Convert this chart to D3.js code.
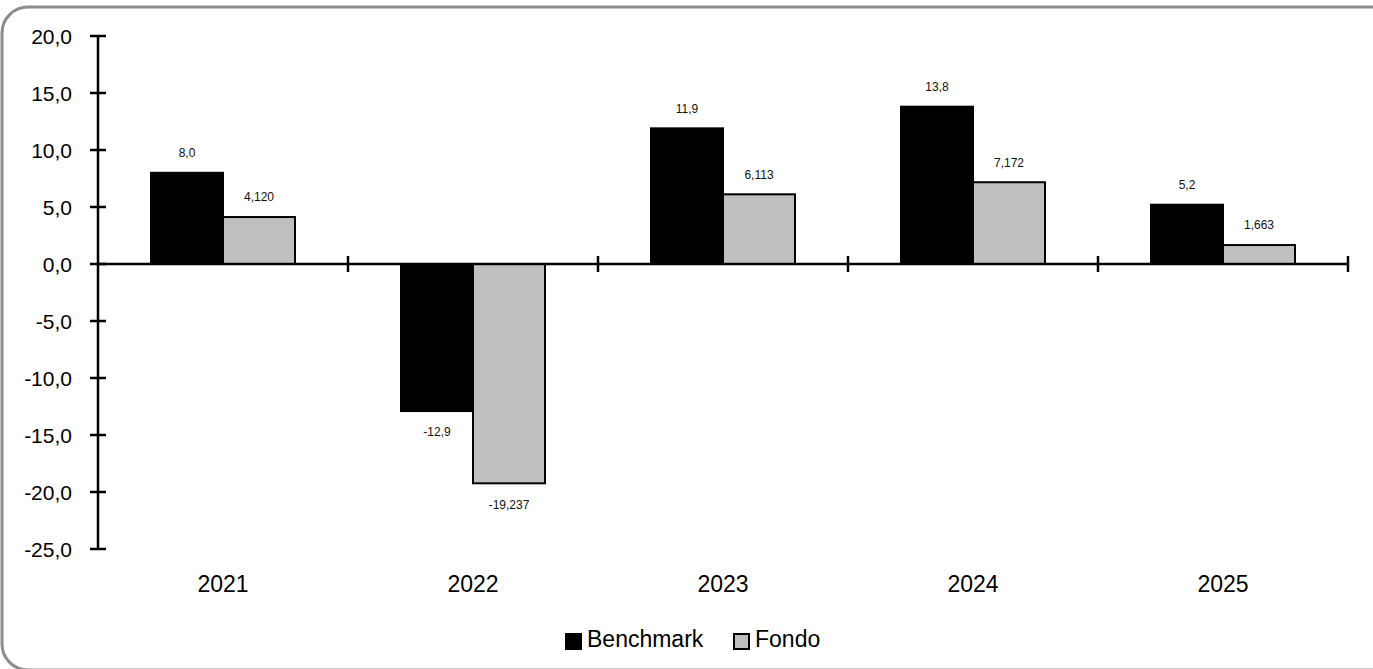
<!DOCTYPE html>
<html>
<head>
<meta charset="utf-8">
<script src="https://cdn.jsdelivr.net/npm/d3@7"></script>
<style>
body{margin:0;background:#fff;}
text{font-family:"Liberation Sans",Arial,sans-serif;fill:#000;}
</style>
</head>
<body>
<svg id="chart" width="1373" height="669"></svg>
<script>
// data
var years = ["2021","2022","2023","2024","2025"];
var benchmark = [8.0, -12.9, 11.9, 13.8, 5.2];
var fondo = [4.120, -19.237, 6.113, 7.172, 1.663];
var benchLabels = ["8,0","-12,9","11,9","13,8","5,2"];
var fondoLabels = ["4,120","-19,237","6,113","7,172","1,663"];
var yTicks = [20,15,10,5,0,-5,-10,-15,-20,-25];
var seriesNames = ["Benchmark","Fondo"];
var seriesColors = ["#000000","#c0c0c0"];

var svg = d3.select("#chart");

// frame
svg.append("rect")
  .attr("x",2).attr("y",7)
  .attr("width",1395).attr("height",663)
  .attr("rx",26).attr("ry",26)
  .attr("fill","none")
  .attr("stroke","#8c8c8c")
  .attr("stroke-width",3);

var left = 98, right = 1348;
var y = d3.scaleLinear().domain([-25,20]).range([549,36]);
var x = d3.scaleBand().domain(years).range([left,right]);
var barW = 72;

// y axis
svg.append("line")
  .attr("x1",left).attr("x2",left)
  .attr("y1",y(20)).attr("y2",y(-25))
  .attr("stroke","#000").attr("stroke-width",2.5);
var fmt = function(d){ return d3.format(".1f")(d).replace(".",",").replace("−","-"); };
svg.selectAll(".ytick").data(yTicks).enter().append("line")
  .attr("x1",left-8).attr("x2",left+8)
  .attr("y1",function(d){return y(d);}).attr("y2",function(d){return y(d);})
  .attr("stroke","#000").attr("stroke-width",2.5);
svg.selectAll(".ylab").data(yTicks).enter().append("text")
  .attr("x",72)
  .attr("y",function(d){return y(d);})
  .attr("dy","0.36em")
  .attr("text-anchor","end")
  .style("font-size","21px")
  .text(fmt);

// bars
var bench = years.map(function(c,i){ return {cat:c, v:benchmark[i], lab:benchLabels[i], s:0}; });
var fond = years.map(function(c,i){ return {cat:c, v:fondo[i], lab:fondoLabels[i], s:1}; });
var all = bench.concat(fond);
function bx(d){ return x(d.cat) + x.bandwidth()/2 - barW + d.s*barW; }

svg.selectAll(".bar").data(all).enter().append("rect")
  .attr("x",bx)
  .attr("y",function(d){ return y(Math.max(0,d.v)); })
  .attr("width",barW)
  .attr("height",function(d){ return Math.abs(y(d.v)-y(0)); })
  .attr("fill",function(d){ return seriesColors[d.s]; })
  .attr("stroke","#000").attr("stroke-width",2);

svg.selectAll(".vlab").data(all).enter().append("text")
  .attr("x",function(d){ return bx(d) + barW/2; })
  .attr("y",function(d){ return d.v >= 0 ? y(d.v) - 20 : y(d.v) + 21; })
  .attr("dy","0.36em")
  .attr("text-anchor","middle")
  .style("font-size","12px")
  .style("fill","#111")
  .text(function(d){ return d.lab; });

// x axis on zero
svg.append("line")
  .attr("x1",left).attr("x2",right)
  .attr("y1",y(0)).attr("y2",y(0))
  .attr("stroke","#000").attr("stroke-width",2.5);
var bounds = years.map(function(c){ return x(c) + x.bandwidth(); });
svg.selectAll(".xtick").data(bounds).enter().append("line")
  .attr("x1",function(d){return d;}).attr("x2",function(d){return d;})
  .attr("y1",y(0)-8).attr("y2",y(0)+8)
  .attr("stroke","#000").attr("stroke-width",2.5);

svg.selectAll(".xlab").data(years).enter().append("text")
  .attr("x",function(d){ return x(d) + x.bandwidth()/2; })
  .attr("y",592)
  .attr("text-anchor","middle")
  .style("font-size","23px")
  .text(function(d){ return d; });

// legend
var legX = [565, 733];
var lg = svg.selectAll(".leg").data(seriesNames).enter().append("g")
  .attr("transform",function(d,i){ return "translate(" + legX[i] + ",633)"; });
lg.append("rect")
  .attr("x",1).attr("y",1).attr("width",15).attr("height",15)
  .attr("fill",function(d,i){ return seriesColors[i]; })
  .attr("stroke","#000").attr("stroke-width",2);
lg.append("text")
  .attr("x",22).attr("y",14)
  .style("font-size","23px")
  .text(function(d){ return d; });
</script>
</body>
</html>
